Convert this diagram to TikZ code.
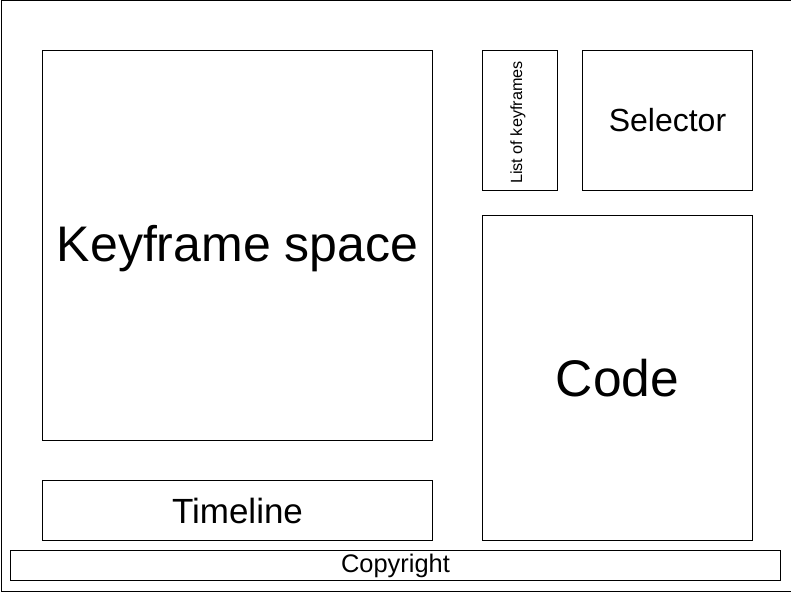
\documentclass[tikz,border=0pt]{standalone}
\usepackage{fontspec}
\setmainfont{Liberation Sans}
\begin{document}
\begin{tikzpicture}[x=1pt,y=-1pt,
  panel/.style={draw=black,line width=1pt,fill=white,inner sep=0pt,anchor=north west,align=center}]
\useasboundingbox (0,0) rectangle (791,591);
\node[panel,minimum width=790pt,minimum height=590pt] (frame) at (0.5,0.5) {};
\node[panel,minimum width=390pt,minimum height=390pt] (kf) at (42,50) {};
\node[font=\fontsize{50}{58}\selectfont,inner sep=0pt] (kftext) at ([yshift=-3pt]kf.center) {Keyframe space};
\node[panel,minimum width=75pt,minimum height=140pt] (list) at (482,50) {};
\node[rotate=90,font=\fontsize{16.2}{19}\selectfont,inner sep=0pt] (listtext) at ([xshift=-2pt,yshift=-2pt]list.center) {List of keyframes};
\node[panel,minimum width=170pt,minimum height=140pt,font=\fontsize{32}{37}\selectfont] (sel) at (582,50) {Selector};
\node[panel,minimum width=270pt,minimum height=325pt,font=\fontsize{51.5}{60}\selectfont] (code) at (482,215) {Code};
\node[panel,minimum width=390pt,minimum height=60pt,font=\fontsize{35}{40}\selectfont] (tl) at (42,480) {Timeline};
\node[panel,minimum width=770pt,minimum height=30pt,font=\fontsize{25.4}{29}\selectfont] (copy) at (10,550) {Copyright};
\end{tikzpicture}
\end{document}
